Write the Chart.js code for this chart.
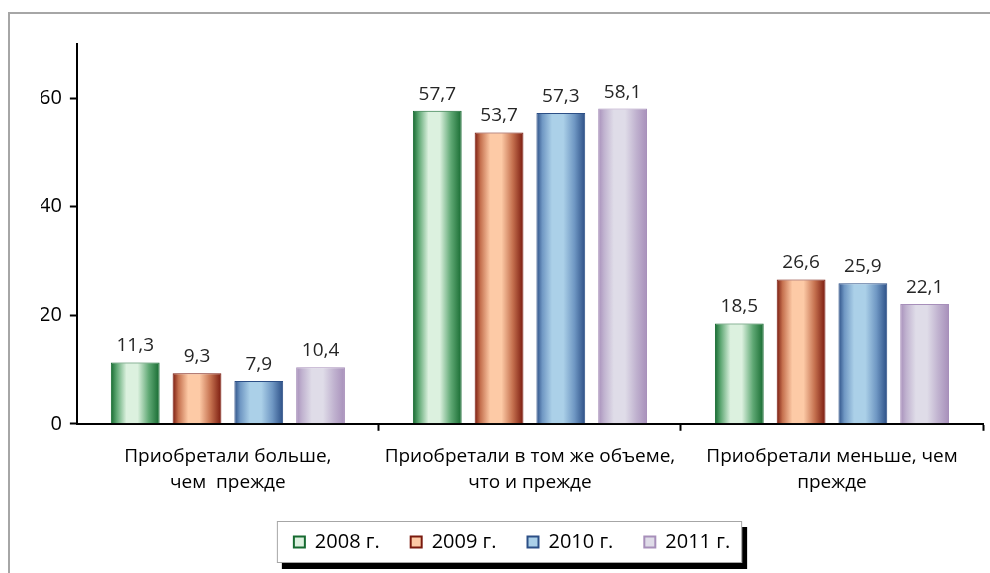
<!DOCTYPE html>
<html>
<head>
<meta charset="utf-8">
<script src="https://cdn.jsdelivr.net/npm/chart.js@4/dist/chart.umd.min.js"></script>
<style>
  html, body { margin: 0; padding: 0; background: #fff; }
  #wrap { width: 990px; height: 573px; }
</style>
</head>
<body>
<div id="wrap"><canvas id="myChart" width="990" height="573"></canvas></div>
<script>
const categories = [
  ["Приобретали больше,", "чем  прежде"],
  ["Приобретали в том же объеме,", "что и прежде"],
  ["Приобретали меньше, чем", "прежде"]
];
const seriesNames = ["2008 г.", "2009 г.", "2010 г.", "2011 г."];
const values2008 = [11.3, 57.7, 18.5];
const values2009 = [9.3, 53.7, 26.6];
const values2010 = [7.9, 57.3, 25.9];
const values2011 = [10.4, 58.1, 22.1];
const yTickValues = [0, 20, 40, 60];
const yMax = 70;

const FONT = "'Open Sans', sans-serif";
const CAT_PCT = 0.818;
const BAR_PCT = 0.79;

// dark edge / light centre pairs for the cylinder look
const palette = [
  { dark: "#166a30", mid: "#5fa874", light: "#dcf1df" },
  { dark: "#7a1a0e", mid: "#c5714f", light: "#fdcaa6" },
  { dark: "#2c4f86", mid: "#6f97c3", light: "#abd0e8" },
  { dark: "#a78fba", mid: "#c0b2cf", light: "#dfdce8" }
];

const barFill = (ds) => (ctx) => {
  const chart = ctx.chart;
  const xs = chart.scales && chart.scales.x;
  const c = palette[ds];
  if (!xs || ctx.dataIndex === undefined || !isFinite(xs.width)) return c.light;
  const catW = xs.width / categories.length;
  const groupW = catW * CAT_PCT;
  const slot = groupW / seriesNames.length;
  const cx = xs.getPixelForValue(ctx.dataIndex) - groupW / 2 + slot * (ds + 0.5);
  const w = slot * BAR_PCT;
  const g = chart.ctx.createLinearGradient(cx - w / 2, 0, cx + w / 2, 0);
  g.addColorStop(0, c.dark);
  g.addColorStop(0.12, c.mid);
  g.addColorStop(0.32, c.light);
  g.addColorStop(0.55, c.light);
  g.addColorStop(0.78, c.mid);
  g.addColorStop(1, c.dark);
  return g;
};

const allValues = [values2008, values2009, values2010, values2011];

const datasets = allValues.map((vals, i) => ({
  label: seriesNames[i],
  data: vals,
  backgroundColor: barFill(i),
  borderColor: palette[i].dark,
  borderWidth: 1,
  borderSkipped: "bottom",
  categoryPercentage: CAT_PCT,
  barPercentage: BAR_PCT
}));

// grey outer frame of the picture + legend box with black shadow
const framePlugin = {
  id: "framePlugin",
  beforeDraw(chart) {
    const c = chart.ctx;
    c.save();
    c.strokeStyle = "#a6a6a6";
    c.lineWidth = 2;
    c.strokeRect(9, 13, 1100, 700);

    const hb = chart.legend && chart.legend.legendHitBoxes;
    if (hb && hb.length) {
      const first = hb[0];
      const last = hb[hb.length - 1];
      const left = first.left - 17;
      const right = last.left + last.width + 12;
      const top = first.top + first.height / 2 - 21;
      const h = 42;
      c.fillStyle = "#000";
      c.fillRect(left + 5, top + 6, right - left, h);
      c.fillStyle = "#fff";
      c.fillRect(left, top, right - left, h);
      c.strokeStyle = "#a6a6a6";
      c.lineWidth = 1;
      c.strokeRect(left + 0.5, top + 0.5, right - left - 1, h - 1);
    }
    c.restore();
  }
};

// value labels above bars, decimal comma
const valueLabels = {
  id: "valueLabels",
  afterDatasetsDraw(chart) {
    const c = chart.ctx;
    c.save();
    c.font = "19px " + FONT;
    c.fillStyle = "#262626";
    c.textAlign = "center";
    c.textBaseline = "alphabetic";
    chart.data.datasets.forEach((ds, i) => {
      chart.getDatasetMeta(i).data.forEach((bar, j) => {
        const txt = ds.data[j].toFixed(1).replace(".", ",");
        c.fillText(txt, bar.x, bar.y - 11);
      });
    });
    c.restore();
  }
};

const ctx = document.getElementById("myChart").getContext("2d");
const myChart = new Chart(ctx, {
  type: "bar",
  data: { labels: categories, datasets },
  options: {
    responsive: false,
    animation: false,
    layout: { padding: { top: 44, left: 41, right: 7, bottom: 11 } },
    plugins: {
      tooltip: { enabled: false },
      legend: {
        position: "bottom",
        labels: {
          font: { family: FONT, size: 20 },
          color: "#000",
          boxWidth: 11,
          boxHeight: 11,
          padding: 31,
          generateLabels: () => seriesNames.map((name, i) => ({
            text: name,
            fillStyle: palette[i].light,
            strokeStyle: palette[i].dark,
            lineWidth: 2,
            datasetIndex: i
          }))
        }
      }
    },
    scales: {
      x: {
        afterFit: (axis) => { axis.height -= 7; },
        grid: {
          offset: true,
          drawOnChartArea: false,
          tickLength: 7,
          tickWidth: 2,
          tickColor: (c) => (c.index === 0 ? "rgba(0,0,0,0)" : "#000")
        },
        border: { display: true, color: "#000", width: 2 },
        ticks: {
          font: { family: FONT, size: 19, lineHeight: 1.4 },
          color: "#000",
          padding: 12,
          maxRotation: 0,
          autoSkip: false
        }
      },
      y: {
        min: 0,
        max: yMax,
        afterFit: (axis) => { axis.width -= 10; },
        afterBuildTicks: (axis) => {
          axis.ticks = yTickValues.map((v) => ({ value: v }));
        },
        grid: {
          drawOnChartArea: false,
          tickLength: 7,
          tickWidth: 2,
          color: "#000"
        },
        border: { display: true, color: "#000", width: 2 },
        ticks: {
          font: { family: FONT, size: 20 },
          color: "#000",
          padding: 8
        }
      }
    }
  },
  plugins: [framePlugin, valueLabels]
});
</script>
</body>
</html>
